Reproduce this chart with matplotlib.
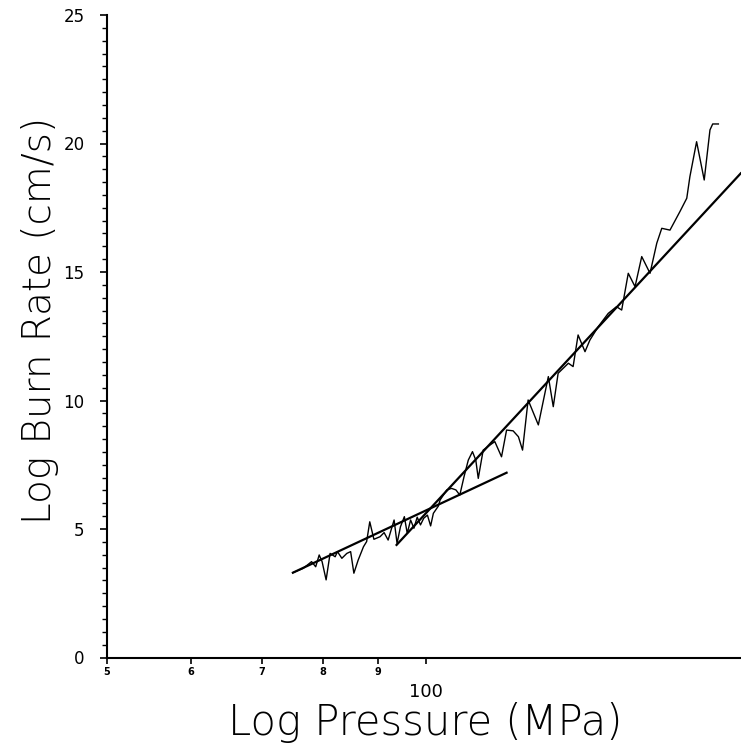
import matplotlib
matplotlib.use("Agg")
import matplotlib.pyplot as plt
from matplotlib.ticker import FixedLocator, NullFormatter, MultipleLocator

# Measured burn-rate data (pressure in MPa, burn rate)
pressure = [74.9, 76.6, 78.0, 78.7, 79.3, 79.8, 80.5, 81.2, 82.1, 82.5, 83.3, 84.2,
            84.9, 85.5, 86.3, 87.3, 87.9, 88.5, 89.3, 90.5, 91.3, 92.1, 92.8, 93.3,
            93.9, 94.6, 95.4, 96.0, 96.7, 97.4, 98.1, 98.8, 99.5, 100.3, 101.0, 101.6,
            102.7, 103.1, 104.6, 105.7, 106.7, 107.6, 108.6, 109.6, 110.6, 111.4, 112.0,
            113.2, 114.9, 116.1, 117.8, 119.1, 120.8, 122.2, 123.3, 124.8, 127.6, 130.4,
            131.8, 133.2, 136.2, 137.6, 139.1, 141.2, 142.7, 145.3, 148.5, 151.2, 152.9,
            155.1, 157.4, 159.7, 162.6, 165.0, 166.8, 169.8, 173.5, 176.1, 177.3, 179.9,
            182.9, 185.2, 186.3, 188.6]
burn_rate = [3.30, 3.47, 3.73, 3.53, 3.99, 3.73, 3.02, 4.05, 3.92, 4.12, 3.86, 4.05,
             4.12, 3.28, 3.79, 4.31, 4.51, 5.28, 4.60, 4.70, 4.86, 4.57, 5.03, 5.35,
             4.44, 5.09, 5.48, 4.83, 5.35, 5.03, 5.46, 5.16, 5.42, 5.54, 5.12, 5.61,
             5.89, 6.13, 6.52, 6.58, 6.52, 6.32, 7.04, 7.68, 8.01, 7.68, 6.97,
             8.07, 8.27, 8.40, 7.81, 8.85, 8.82, 8.59, 8.07, 10.02, 9.05, 10.93,
             9.76, 11.06, 11.45, 11.32, 12.55, 11.90, 12.35, 12.87, 13.39, 13.65, 13.52,
             14.95, 14.43, 15.60, 14.95, 16.12, 16.70, 16.63, 17.35, 17.87, 18.71, 20.07,
             18.58, 20.53, 20.76, 20.76]

# Fitted straight lines (endpoints)
fit_low_p = [74.9, 119.1]
fit_low_r = [3.30, 7.19]
fit_high_p = [93.8, 198.0]
fit_high_r = [4.38, 18.84]

xticks = [50, 60, 70, 80, 90, 100]
xtick_labels = ["5", "6", "7", "8", "9", ""]
yticks = [0, 5, 10, 15, 20, 25]

fig = plt.figure(figsize=(7.41, 7.49), dpi=100)
ax = fig.add_axes([106.7 / 741, (749 - 657.5) / 749, (741 - 106.7) / 741, 642.5 / 749])

ax.plot(pressure, burn_rate, color="black", lw=1.0)
ax.plot(fit_low_p, fit_low_r, color="black", lw=1.6)
ax.plot(fit_high_p, fit_high_r, color="black", lw=1.6)

ax.set_xscale("log")
ax.set_xlim(50, 198.1)
ax.set_ylim(0, 25)

ax.xaxis.set_major_locator(FixedLocator(xticks))
ax.xaxis.set_minor_locator(FixedLocator([]))
ax.set_xticklabels(xtick_labels, fontsize=7, fontweight="bold")
ax.xaxis.set_minor_formatter(NullFormatter())
ax.tick_params(axis="x", direction="out", length=4, width=1.2, pad=3)

ax.set_yticks(yticks)
ax.yaxis.set_minor_locator(MultipleLocator(0.5))
ax.tick_params(axis="y", which="major", direction="out", length=5, width=1.2, pad=11, labelsize=12)
ax.tick_params(axis="y", which="minor", direction="out", length=3.5, width=1.0)

for s in ["top", "right"]:
    ax.spines[s].set_visible(False)
for s in ["left", "bottom"]:
    ax.spines[s].set_linewidth(1.5)

ax.annotate("100", xy=(100, 0), xycoords=("data", "axes fraction"),
            xytext=(0, -24.8), textcoords="offset points",
            ha="center", va="center", fontsize=13)

ax.set_xlabel("Log Pressure (MPa)", fontsize=30, fontweight="light")
ax.xaxis.set_label_coords(0.502, -0.1004)
ax.xaxis.label.set_va("center")
ax.set_ylabel("Log Burn Rate (cm/s)", fontsize=28, fontweight="light")
ax.yaxis.set_label_coords(-0.1050, 0.525)
ax.yaxis.label.set_va("center")

fig.savefig("out.png", dpi=100)
